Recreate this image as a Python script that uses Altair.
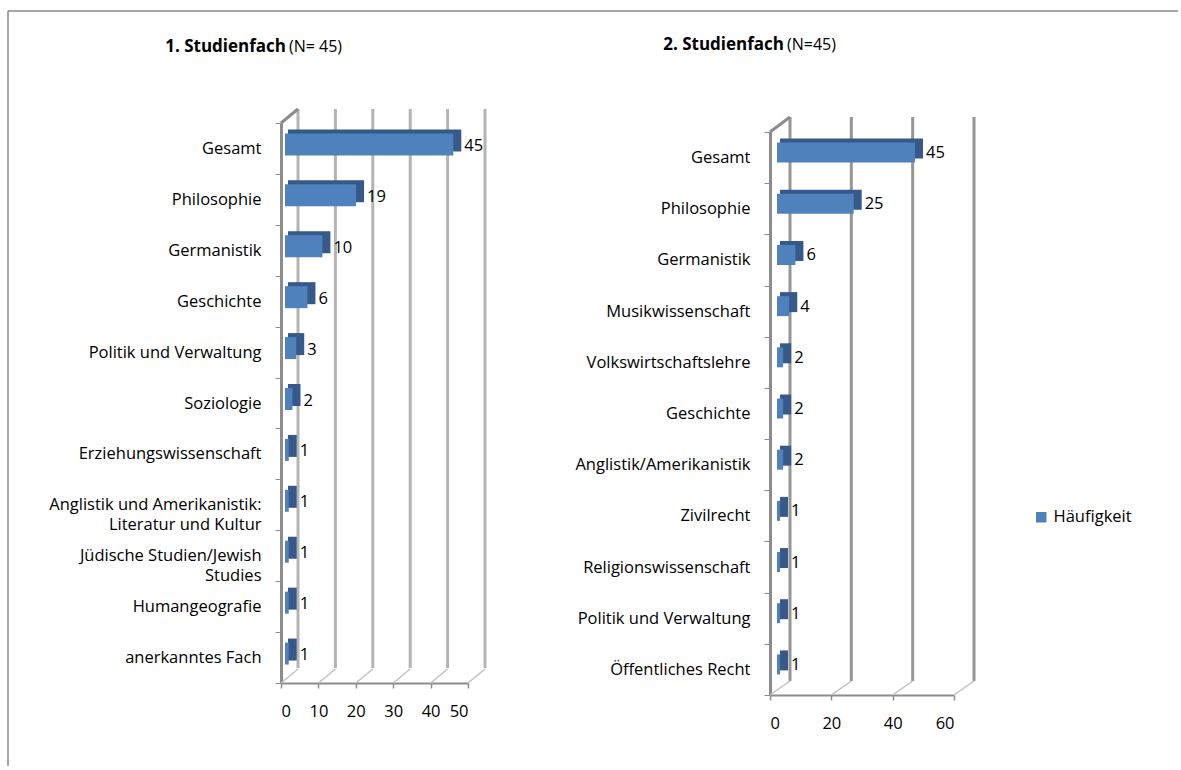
import altair as alt
import pandas as pd

# ---------------- data ----------------
cats1 = ["Gesamt", "Philosophie", "Germanistik", "Geschichte", "Politik und Verwaltung",
         "Soziologie", "Erziehungswissenschaft",
         "Anglistik und Amerikanistik:\nLiteratur und Kultur",
         "Jüdische Studien/Jewish\nStudies", "Humangeografie", "anerkanntes Fach"]
vals1 = [45, 19, 10, 6, 3, 2, 1, 1, 1, 1, 1]

cats2 = ["Gesamt", "Philosophie", "Germanistik", "Musikwissenschaft", "Volkswirtschaftslehre",
         "Geschichte", "Anglistik/Amerikanistik", "Zivilrecht", "Religionswissenschaft",
         "Politik und Verwaltung", "Öffentliches Recht"]
vals2 = [45, 25, 6, 4, 2, 2, 2, 1, 1, 1, 1]

ticks1 = [0, 10, 20, 30, 40, 50]
ticks2 = [0, 20, 40, 60]
series = "Häufigkeit"
title1 = ["1. Studienfach", "(N= 45)"]
title2 = ["2. Studienfach", "(N=45)"]

FONT = "Open Sans"
FS = 16.5
BLUE = "#4f81bd"
DARK = "#36598a"


def panel(cats, vals, ticks, xdom, xrange, yrange, x_off, y_off, bar_dx, bar_dy,
          bar_size, depth_x, depth_y, back_top, back_bottom, grid_color, lab_dx, lab_dy,
          titles, title_x, title_y):
    df = pd.DataFrame({"Fach": cats, "n": vals, "z": [0] * len(cats),
                       "Serie": [series] * len(cats)})
    tdf = pd.DataFrame({"v": ticks})
    zdf = pd.DataFrame({"v": [ticks[0]]})
    front_top, front_bottom = yrange

    xscale = alt.Scale(domain=xdom, range=xrange, nice=False)
    yscale = alt.Scale(domain=cats, range=yrange, paddingInner=0, paddingOuter=0)
    xaxis = alt.Axis(values=ticks, orient="bottom", offset=x_off, grid=False, title=None,
                     domainColor="#8c8c8c", domainWidth=2, tickColor="#8c8c8c",
                     tickSize=5, tickWidth=1.5, labelPadding=15, labelFont=FONT,
                     labelFontSize=FS, labelColor="black")
    yaxis = alt.Axis(orient="left", offset=y_off, tickBand="extent", title=None,
                     domainColor="#8c8c8c", domainWidth=3, tickColor="#8c8c8c",
                     tickSize=6, tickWidth=1, labelPadding=14, labelFont=FONT,
                     labelFontSize=FS, labelColor="black", labelLimit=330,
                     labelExpr="split(datum.label, '\\n')", labelLineHeight=19.5)
    X = alt.X("n:Q", scale=xscale, axis=xaxis)
    X2 = alt.X2("z:Q")
    Y = alt.Y("Fach:N", scale=yscale, axis=yaxis, sort=cats)
    XV = alt.X("v:Q", scale=xscale, axis=xaxis)

    grid = alt.Chart(tdf).mark_rule(strokeWidth=3, color=grid_color, xOffset=depth_x).encode(
        x=XV, y=alt.value(back_top), y2=alt.value(back_bottom))
    floor = alt.Chart(tdf).mark_rule(strokeWidth=1.5, color="#c0c0c0", x2Offset=depth_x).encode(
        x=XV, x2="v:Q", y=alt.value(front_bottom), y2=alt.value(front_bottom - depth_y))
    wall = alt.Chart(zdf).mark_rule(strokeWidth=3, color="#8c8c8c", x2Offset=depth_x).encode(
        x=XV, x2="v:Q", y=alt.value(front_top), y2=alt.value(back_top))

    # depth of each bar (top and side faces), drawn behind the front face
    back = alt.Chart(df).mark_bar(size=bar_size, color=DARK,
                                  xOffset=bar_dx + 8, x2Offset=bar_dx + 3,
                                  yOffset=bar_dy - 4).encode(x=X, x2=X2, y=Y)
    legend = alt.Legend(orient="none", legendX=752, legendY=386, title=None,
                        symbolType="square", symbolSize=110, symbolStrokeWidth=0,
                        labelFont=FONT, labelFontSize=FS, labelColor="black", padding=0)
    front = alt.Chart(df).mark_bar(size=bar_size, xOffset=bar_dx, x2Offset=bar_dx,
                                   yOffset=bar_dy).encode(
        x=X, x2=X2, y=Y,
        color=alt.Color("Serie:N", scale=alt.Scale(range=[BLUE]), legend=legend))
    labels = alt.Chart(df).mark_text(align="left", baseline="middle", dx=lab_dx, dy=lab_dy,
                                     font=FONT, fontSize=FS, color="black").encode(
        x=X, y=Y, text="n:Q")

    tdf2 = pd.DataFrame({"a": [titles[0]], "b": [titles[1]]})
    t_bold = alt.Chart(tdf2).mark_text(align="right", baseline="middle", font=FONT,
                                       fontSize=17, fontWeight="bold", color="black").encode(
        x=alt.value(title_x), y=alt.value(title_y), text="a:N")
    t_norm = alt.Chart(tdf2).mark_text(align="left", baseline="middle", font=FONT,
                                       fontSize=16, color="black").encode(
        x=alt.value(title_x + 3), y=alt.value(title_y), text="b:N")

    return alt.layer(grid, floor, wall, back, front, labels, t_bold, t_norm)


p1 = panel(cats1, vals1, ticks1, [0, 50], [0, 187], [0, 560], -12, 0, 4, -4, 22,
           17, 14, -14, 545, "#b4b4b4", 15, -2.5, title1, 5, -76)
p2 = panel(cats2, vals2, ticks2, [0, 60], [489, 673], [9, 572], 0, -489, 7, -5, 20,
           20, 14, -6, 558, "#969696", 18, -4.5, title2, 503, -78)

bdf = pd.DataFrame({"a": [0]})
border_top = alt.Chart(bdf).mark_rule(strokeWidth=1.5, color="#8a8a8a").encode(
    x=alt.value(-273), x2=alt.value(897), y=alt.value(-112))
border_left = alt.Chart(bdf).mark_rule(strokeWidth=1.5, color="#8a8a8a").encode(
    x=alt.value(-273), y=alt.value(-112), y2=alt.value(643))

chart = alt.layer(p1, p2, border_top, border_left).resolve_scale(
    x="independent", y="independent"
).properties(
    width=673, height=572,
    padding={"left": 7, "top": 10, "right": 0, "bottom": 0},
    background="white",
).configure_view(stroke=None)

chart.save("out.html", embed_options={"renderer": "svg", "actions": False})
